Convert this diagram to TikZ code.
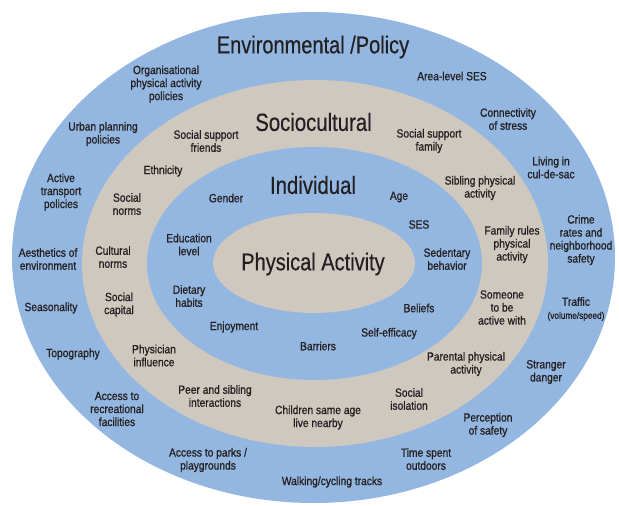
\documentclass[tikz,border=0pt]{standalone}
\usepackage{fontspec}
\setmainfont[FakeStretch=0.86]{Liberation Sans}
\newfontfamily\lblfont[FakeStretch=0.86,FakeBold=0.8]{Liberation Sans}
\newfontfamily\ttlfont[FakeStretch=0.82,FakeBold=0.4]{Liberation Sans}
\definecolor{ringblue}{HTML}{93B7E1}
\definecolor{ringbeige}{HTML}{CEC8BF}
\definecolor{txt}{HTML}{231F20}
\tikzset{
  lbl/.style={font=\lblfont\fontsize{11.9}{13}\selectfont, align=center, text=txt, inner sep=0pt},
  ttl/.style={font=\ttlfont\fontsize{24.4}{26}\selectfont, text=txt, inner sep=0pt},
  ttlb/.style={font=\ttlfont\fontsize{24.8}{26}\selectfont, text=txt, inner sep=0pt},
}
\begin{document}
\begin{tikzpicture}[x=1pt,y=-1pt]
\useasboundingbox (0,0) rectangle (619,506);
\fill[ringblue] (313.5,257.5) ellipse [x radius=301.5pt, y radius=245.5pt];
\fill[ringbeige] (315,263.5) ellipse [x radius=233pt, y radius=183.5pt];
\fill[ringblue] (314.5,263.5) ellipse [x radius=167.5pt, y radius=116.5pt];
\fill[ringbeige] (314,263) ellipse [x radius=101pt, y radius=50pt];

% titles
\node[ttl] (env) at (313,47) {Environmental /Policy};
\node[ttlb] (soc) at (313.5,122) {Sociocultural};
\node[ttlb] (ind) at (313,185) {Individual};
\node[ttl] (pa) at (313,264) {Physical Activity};

% environmental / policy ring
\node[lbl] (e1) at (166,84) {Organisational\\physical activity\\policies};
\node[lbl] (e2) at (452,76) {Area-level SES};
\node[lbl] (e3) at (103,134) {Urban planning\\policies};
\node[lbl] (e4) at (508,119) {Connectivity\\of stress};
\node[lbl] (e5) at (551,167.5) {Living in\\cul-de-sac};
\node[lbl] (e6) at (61,192) {Active\\transport\\policies};
\node[lbl] (e7) at (581,240) {Crime\\rates  and\\neighborhood\\safety};
\node[lbl] (e8) at (48,259) {Aesthetics of\\environment};
\node[lbl] (e9) at (51,308) {Seasonality};
\node[lbl] (e10) at (576,309) {Traffic\\{\fontsize{9.6}{11}\selectfont (volume/speed)}};
\node[lbl] (e11) at (73,354) {Topography};
\node[lbl] (e12) at (546,372) {Stranger\\danger};
\node[lbl] (e13) at (117,409) {Access to\\recreational\\facilities};
\node[lbl] (e14) at (488,425) {Perception\\of safety};
\node[lbl] (e15) at (208,460) {Access to parks /\\playgrounds};
\node[lbl] (e16) at (426,459) {Time spent\\outdoors};
\node[lbl] (e17) at (332,482) {Walking/cycling tracks};

% sociocultural ring
\node[lbl] (s1) at (206,141) {Social support\\friends};
\node[lbl] (s2) at (429,141) {Social support\\family};
\node[lbl] (s3) at (163,171) {Ethnicity};
\node[lbl] (s4) at (480,188) {Sibling physical\\activity};
\node[lbl] (s5) at (127,204) {Social\\norms};
\node[lbl] (s6) at (512,244.5) {Family rules\\physical\\activity};
\node[lbl] (s7) at (113,257) {Cultural\\norms};
\node[lbl] (s8) at (119,304.5) {Social\\capital};
\node[lbl] (s9) at (502,307.5) {Someone\\to be\\active with};
\node[lbl] (s10) at (154,355.5) {Physician\\influence};
\node[lbl] (s11) at (466,364) {Parental physical\\activity};
\node[lbl] (s12) at (215,396) {Peer and sibling\\interactions};
\node[lbl] (s13) at (409,399) {Social\\isolation};
\node[lbl] (s14) at (318,417.5) {Children same age\\live nearby};

% individual ring
\node[lbl] (i1) at (226,198) {Gender};
\node[lbl] (i2) at (399,197) {Age};
\node[lbl] (i3) at (419,224.5) {SES};
\node[lbl] (i4) at (189,244.5) {Education\\level};
\node[lbl] (i5) at (447,259) {Sedentary\\behavior};
\node[lbl] (i6) at (189,296) {Dietary\\habits};
\node[lbl] (i7) at (419,308) {Beliefs};
\node[lbl] (i8) at (234,327) {Enjoyment};
\node[lbl] (i9) at (389,333.5) {Self-efficacy};
\node[lbl] (i10) at (318,346) {Barriers};
\end{tikzpicture}
\end{document}
